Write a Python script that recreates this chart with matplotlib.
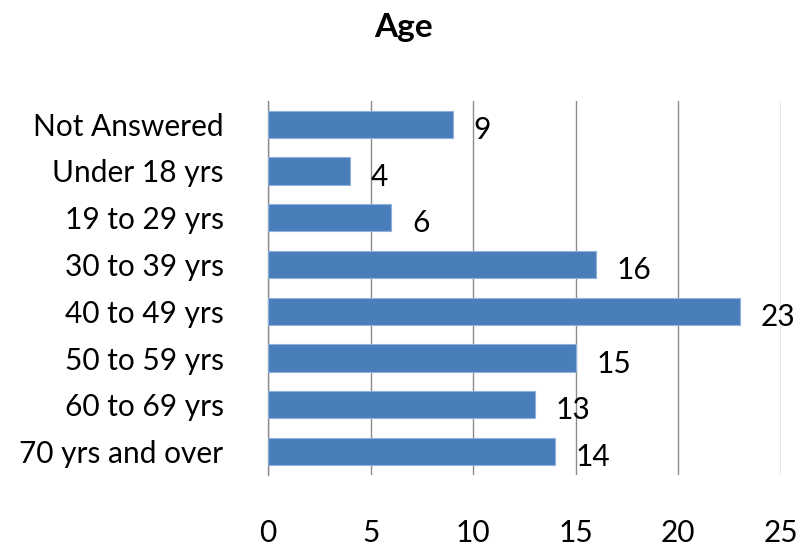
import matplotlib
matplotlib.use("Agg")
import matplotlib.pyplot as plt
import numpy as np

# chart data
categories = ["Not Answered", "Under 18 yrs", "19 to 29 yrs", "30 to 39 yrs",
              "40 to 49 yrs", "50 to 59 yrs", "60 to 69 yrs", "70 yrs and over"]
counts = [9, 4, 6, 16, 23, 15, 13, 14]
x_ticks = [0, 5, 10, 15, 20, 25]

plt.rcParams['font.family'] = ['Lato', 'DejaVu Sans']

fig = plt.figure(figsize=(8.0, 5.51), dpi=100)
ax = fig.add_axes([0.335, 0.138, 0.641, 0.679])

y = np.arange(len(categories))
bars = ax.barh(y, counts, height=0.58, color='#4A7EBB', edgecolor='#8FB0DA',
               linewidth=0.8, zorder=3)

for yi, v in zip(y, counts):
    ax.annotate(str(v), (v, yi), xytext=(15, -4), textcoords='offset points',
                ha='left', va='center', fontsize=21.5, color='black', zorder=4)

ax.set_xlim(0, 25)
ax.set_ylim(len(categories) - 0.5, -0.5)
ax.set_xticks(x_ticks)
ax.set_xticklabels([str(t) for t in x_ticks], fontsize=21.5)
ax.set_yticks(y)
ax.set_yticklabels(categories, fontsize=21.5)
ax.tick_params(axis='x', length=0, pad=32)
ax.tick_params(axis='y', length=0, pad=32)

ax.xaxis.grid(True, color='#8C8C8C', linewidth=1.0, zorder=0)
for side in ['top', 'right', 'bottom']:
    ax.spines[side].set_visible(False)
ax.spines['left'].set_color('#8C8C8C')
ax.spines['left'].set_linewidth(1.0)

fig.text(0.505, 0.95, "Age", ha='center', va='center', fontsize=24,
         fontweight='bold')

fig.savefig("out.png", dpi=100)
